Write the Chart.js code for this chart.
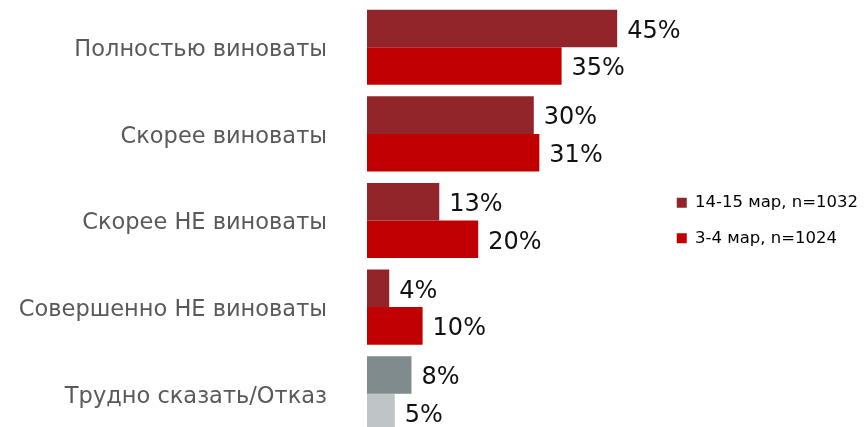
<!DOCTYPE html>
<html>
<head>
<meta charset="utf-8">
<script src="https://cdn.jsdelivr.net/npm/chart.js@4/dist/chart.umd.min.js"></script>
<style>
  html, body { margin: 0; padding: 0; background: #fff; overflow: hidden; }
  canvas { display: block; }
</style>
</head>
<body>
<canvas id="survey" width="865" height="440"></canvas>
<script>
const categories = [
  'Полностью виноваты',
  'Скорее виноваты',
  'Скорее НЕ виноваты',
  'Совершенно НЕ виноваты',
  'Трудно сказать/Отказ'
];
const seriesNames = ['14-15 мар, n=1032', '3-4 мар, n=1024'];
const marchMid = [45, 30, 13, 4, 8];
const marchEarly = [35, 31, 20, 10, 5];

const darkRed = '#922529';
const red = '#c00000';
const midColors = [darkRed, darkRed, darkRed, darkRed, '#7f8b8c'];
const earlyColors = [red, red, red, red, '#bfc4c7'];

const fontFamily = '"DejaVu Sans", Verdana, sans-serif';

// percent labels to the right of each bar
const valueLabels = {
  id: 'valueLabels',
  afterDatasetsDraw(chart) {
    const ctx = chart.ctx;
    ctx.save();
    ctx.font = '24px ' + fontFamily;
    ctx.fillStyle = '#111';
    ctx.textBaseline = 'middle';
    ctx.textAlign = 'left';
    chart.data.datasets.forEach((ds, i) => {
      chart.getDatasetMeta(i).data.forEach((bar, j) => {
        ctx.fillText(ds.data[j] + '%', bar.x + 10, bar.y + 3);
      });
    });
    ctx.restore();
  }
};

new Chart(document.getElementById('survey').getContext('2d'), {
  type: 'bar',
  data: {
    labels: categories,
    datasets: [
      { label: seriesNames[0], data: marchMid, backgroundColor: midColors },
      { label: seriesNames[1], data: marchEarly, backgroundColor: earlyColors }
    ]
  },
  options: {
    indexAxis: 'y',
    responsive: false,
    animation: false,
    layout: { padding: { top: 4, bottom: 3, left: 0, right: -3 } },
    datasets: {
      bar: { categoryPercentage: 0.867, barPercentage: 1.0 }
    },
    scales: {
      x: {
        min: 0,
        max: 52.3,
        display: false
      },
      y: {
        grid: { display: false, drawTicks: false },
        border: { display: false },
        ticks: {
          color: '#595959',
          padding: 40,
          labelOffset: 3,
          font: { family: fontFamily, size: 22.5 }
        },
        afterFit: (scale) => {
          scale.width = 367;
          scale.paddingTop = 0;
          scale.paddingBottom = 0;
        }
      }
    },
    plugins: {
      legend: {
        position: 'right',
        labels: {
          boxWidth: 10,
          boxHeight: 10,
          padding: 19,
          color: '#222',
          font: { family: fontFamily, size: 16.5 },
          generateLabels: (chart) => chart.data.datasets.map((ds, i) => ({
            text: ds.label,
            fillStyle: i === 0 ? darkRed : red,
            strokeStyle: i === 0 ? darkRed : red,
            lineWidth: 0,
            datasetIndex: i
          }))
        }
      },
      tooltip: { enabled: false }
    }
  },
  plugins: [valueLabels]
});
</script>
</body>
</html>
